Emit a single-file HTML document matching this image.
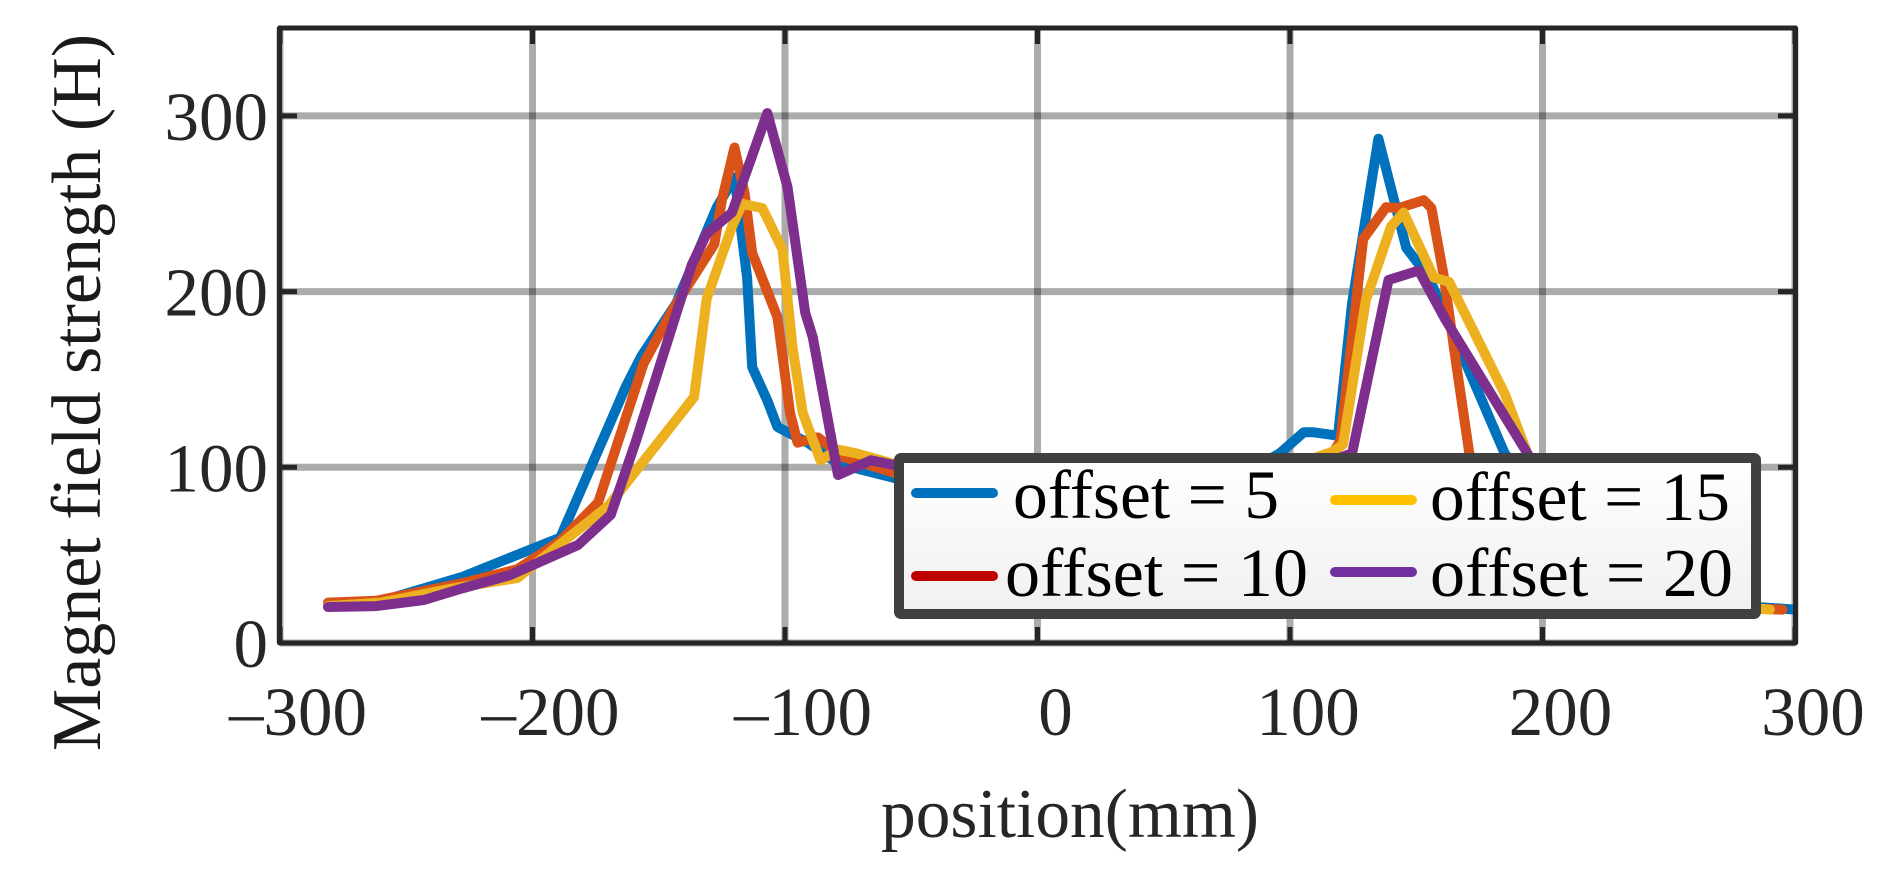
<!DOCTYPE html>
<html>
<head>
<meta charset="utf-8">
<title>Magnet field strength vs position</title>
<style>
html,body{margin:0;padding:0;background:#fff;}
svg{display:block;}
text{font-family:"Liberation Serif",serif;}
</style>
</head>
<body>
<svg id="chart" xmlns="http://www.w3.org/2000/svg" width="1904" height="882" viewBox="0 0 1904 882">
<defs>
<linearGradient id="legendFill" x1="0" y1="0" x2="0" y2="1"><stop offset="0" stop-color="#ffffff"/><stop offset="1" stop-color="#f0f0f0"/></linearGradient>
<clipPath id="plotClip"><rect x="280" y="28" width="1518" height="615"/></clipPath>
</defs>
<g id="grid"></g>
<g id="series" clip-path="url(#plotClip)"></g>
<g id="ticks"></g>
<rect x="279.5" y="28" width="1516" height="615" fill="none" stroke="#262626" stroke-width="5" stroke-linejoin="round"/>
<g id="tickLabels"></g>
<text transform="translate(100,751) rotate(-90)" font-size="70" fill="#1a1a1a" textLength="717" lengthAdjust="spacingAndGlyphs">Magnet field strength (H)</text>
<text x="881" y="837" font-size="70" fill="#262626" textLength="378" lengthAdjust="spacingAndGlyphs">position(mm)</text>
<g>
<rect x="899" y="458" width="857" height="156" rx="2" fill="url(#legendFill)" stroke="#404040" stroke-width="10" stroke-linejoin="round"/>
<line x1="916" y1="493" x2="993" y2="493" stroke="#0072BD" stroke-width="10" stroke-linecap="round"/>
<text x="1013" y="518" font-size="69" fill="#000" textLength="266" lengthAdjust="spacingAndGlyphs">offset = 5</text>
<line x1="916" y1="576" x2="993" y2="576" stroke="#C00000" stroke-width="10" stroke-linecap="round"/>
<text x="1005" y="596" font-size="69" fill="#000" textLength="303" lengthAdjust="spacingAndGlyphs">offset = 10</text>
<line x1="1335" y1="500" x2="1412" y2="500" stroke="#FFC000" stroke-width="10" stroke-linecap="round"/>
<text x="1430" y="520" font-size="69" fill="#000" textLength="300" lengthAdjust="spacingAndGlyphs">offset = 15</text>
<line x1="1335" y1="572" x2="1412" y2="572" stroke="#7030A0" stroke-width="10" stroke-linecap="round"/>
<text x="1430" y="596" font-size="69" fill="#000" textLength="303" lengthAdjust="spacingAndGlyphs">offset = 20</text>
</g>
</svg>
<script>
var xTicks = [-300, -200, -100, 0, 100, 200, 300];
var yTicks = [0, 100, 200, 300];
var offset5X = [-281, -262, -228, -189, -186, -163, -157, -143, -127, -120, -115, -113, -107, -103, -91, -79, -57, -40, -20, 0, 20, 50, 80, 96, 105.5, 109, 119, 124.6, 135, 146, 155, 185, 198, 215, 240, 265, 280, 300];
var offset5Y = [21, 23, 37.5, 60, 70, 146, 163, 193.5, 248, 265, 208, 157, 138, 123, 114, 102, 94, 88, 80, 78, 80, 85, 95, 108, 120, 120, 118, 193.5, 287, 225, 208, 108, 80, 55, 35, 24, 21, 19];
var offset10X = [-281, -262, -228, -206, -189, -174, -156, -144, -128, -125, -120, -116, -113, -103, -98, -95, -87, -77, -57, -40, -20, 0, 30, 60, 90, 117, 120, 129, 138, 143, 153, 156, 161, 166, 171, 178, 195, 220, 250, 275, 295];
var offset10Y = [23, 24, 34, 42, 58, 80, 159, 191, 227, 252, 282, 256, 222, 185.5, 131, 114, 117, 106, 97, 90, 82, 78, 80, 86, 95, 108, 115.5, 230, 248, 247.5, 252, 247.5, 208, 157, 108, 85, 60, 38, 25, 20, 19];
var offset15X = [-281, -260, -232, -206, -170, -136, -131, -121, -117, -109, -101, -97, -93, -86, -79, -72, -57, -40, -20, 0, 30, 60, 90, 117, 121, 130, 140, 145, 157, 163, 185, 194, 205, 225, 250, 275, 290];
var offset15Y = [21, 23, 31, 37, 78, 140, 196, 237, 250, 247.5, 224, 168, 131, 104, 110, 108, 102, 94, 84, 78, 80, 86, 95, 109, 113, 195, 237, 245, 208, 205.5, 142, 108, 80, 50, 30, 21, 19];
var offset20X = [-281, -262, -243, -228, -209, -182, -169, -159, -137, -131, -121, -107, -99, -92, -89, -79, -66, -56, -40, -20, 0, 30, 60, 90, 124.6, 139, 151, 161.6, 194, 205, 225, 250, 270, 281];
var offset20Y = [20.5, 21, 24.5, 31, 38.6, 55.8, 73, 115, 215, 233, 245, 301.6, 259.5, 188, 174, 95.6, 104, 101, 92, 84, 78, 76, 80, 90, 108, 206.6, 212, 184, 108, 78, 48, 28, 21, 20];

function xScale(v) { return 1037.5 + v * 2.525; }
function yScale(v) { return 643 - v * 1.757; }
var NS = 'http://www.w3.org/2000/svg';

var gridG = document.getElementById('grid');
var tickG = document.getElementById('ticks');
var labelG = document.getElementById('tickLabels');
var seriesG = document.getElementById('series');

function addLine(parent, x1, y1, x2, y2, stroke, width, opacity) {
  var l = document.createElementNS(NS, 'line');
  l.setAttribute('x1', x1);
  l.setAttribute('y1', y1);
  l.setAttribute('x2', x2);
  l.setAttribute('y2', y2);
  l.setAttribute('stroke', stroke);
  l.setAttribute('stroke-width', width);
  if (opacity) l.setAttribute('stroke-opacity', opacity);
  parent.appendChild(l);
  return l;
}
function fmt(v) { return v < 0 ? '\u2013' + Math.abs(v) : String(v); }

xTicks.forEach(function (v) {
  var px = xScale(v);
  var g = addLine(gridG, px, 28, px, 643, '#000', 7, 0.33);
  
  
  var t1 = addLine(tickG, px, 643, px, 627, '#262626', 5);
  
  
  var t2 = addLine(tickG, px, 28, px, 44, '#262626', 5);
  
  
  var t = document.createElementNS(NS, 'text');
  
  
  t.setAttribute('x', px + 18);
  t.setAttribute('y', 735);
  t.setAttribute('text-anchor', 'middle');
  t.setAttribute('font-size', '69');
  t.setAttribute('fill', '#262626');
  t.textContent = fmt(v);
  labelG.appendChild(t);
});
yTicks.forEach(function (v) {
  var py = yScale(v);
  var g = addLine(gridG, 280, py, 1795, py, '#000', 7, 0.33);
  
  
  var t1 = addLine(tickG, 280, py, 297, py, '#262626', 5);
  
  
  var t2 = addLine(tickG, 1795, py, 1778, py, '#262626', 5);
  
  
  var t = document.createElementNS(NS, 'text');
  
  
  t.setAttribute('x', 268);
  t.setAttribute('y', py + 24);
  t.setAttribute('text-anchor', 'end');
  t.setAttribute('font-size', '69');
  t.setAttribute('fill', '#262626');
  t.textContent = fmt(v);
  labelG.appendChild(t);
});

function drawSeries(xs, ys, color, name) {
  var pts = xs.map(function (x, i) { return xScale(x).toFixed(1) + ',' + yScale(ys[i]).toFixed(1); }).join(' ');
  var p = document.createElementNS(NS, 'polyline');
  p.setAttribute('points', pts);
  p.setAttribute('fill', 'none');
  p.setAttribute('stroke', color);
  p.setAttribute('stroke-width', '10');
  p.setAttribute('stroke-linecap', 'round');
  p.setAttribute('stroke-linejoin', 'round');
  
  
  seriesG.appendChild(p);
}
drawSeries(offset5X, offset5Y, '#0072BD', 'series-offset-5');
drawSeries(offset10X, offset10Y, '#D95319', 'series-offset-10');
drawSeries(offset15X, offset15Y, '#EDB120', 'series-offset-15');
drawSeries(offset20X, offset20Y, '#7E2F8E', 'series-offset-20');
</script>
</body>
</html>
